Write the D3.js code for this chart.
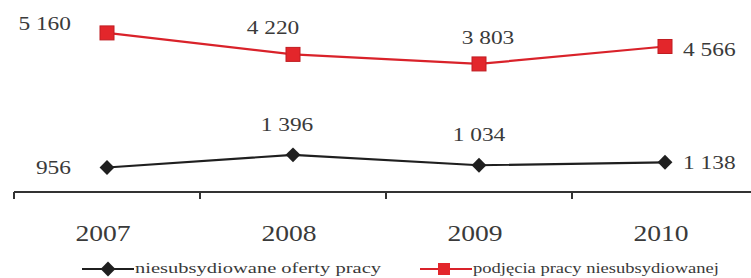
<!DOCTYPE html>
<html>
<head>
<meta charset="utf-8">
<script src="https://cdn.jsdelivr.net/npm/d3@7"></script>
<style>
  body { margin: 0; background: #fff; }
  svg { display: block; }
</style>
</head>
<body>
<div id="chart"></div>
<script>
// chart data
var years = ["2007", "2008", "2009", "2010"];
var offers = [956, 1396, 1034, 1138];          // niesubsydiowane oferty pracy
var placements = [5160, 4220, 3803, 4566];    // podjęcia pracy niesubsydiowanej
var seriesNames = ["niesubsydiowane oferty pracy", "podjęcia pracy niesubsydiowanej"];

var width = 751, height = 278;
var axisY = 192;
var textColor = "#3a3a3a";
var serif = "'Liberation Serif', 'Times New Roman', serif";

var svg = d3.select("#chart").append("svg")
    .attr("width", width)
    .attr("height", height);

// band scale so ticks fall between years, points sit in the middle
var x = d3.scaleBand()
    .domain(years)
    .range([14, 758]);
var cx = d => x(d) + x.bandwidth() / 2;

// the original axis is broken, each series gets its own band
var yTop = d3.scaleLinear().domain([3800, 5200]).range([64, 32]);
var yBottom = d3.scaleLinear().domain([800, 1600]).range([172, 149]);

var fmt = v => d3.format(",")(v).replace(",", " ");

// helper for the wide-looking serif text
function label(g, px, py, txt, size, anchor, sx) {
    g.append("g")
        .attr("transform", "translate(" + px + "," + py + ") scale(" + sx + ",1)")
        .append("text")
        .attr("text-anchor", anchor)
        .attr("dominant-baseline", "central")
        .attr("font-family", serif)
        .attr("font-size", size + "px")
        .attr("fill", textColor)
        .text(txt);
}

// axis line and ticks
svg.append("line")
    .attr("x1", x.range()[0]).attr("x2", width)
    .attr("y1", axisY).attr("y2", axisY)
    .attr("stroke", "#333").attr("stroke-width", 2);

svg.selectAll(".tick")
    .data(years)
    .enter().append("line")
    .attr("x1", d => x(d)).attr("x2", d => x(d))
    .attr("y1", axisY).attr("y2", axisY + 7)
    .attr("stroke", "#333").attr("stroke-width", 2);

years.forEach(d => label(svg, cx(d) - 4, 233, d, 23, "middle", 1.2));

var series = [
    { name: seriesNames[1], values: placements, y: yTop, color: "#d9222a", marker: "square", nudge: [0, -20, 9, 0], above: 26 },
    { name: seriesNames[0], values: offers, y: yBottom, color: "#1f1f1f", marker: "diamond", nudge: [0, -6, 0, 0], above: 30 }
];

function drawMarker(g, m, px, py, color) {
    if (m === "square") {
        g.append("rect")
            .attr("x", px - 7).attr("y", py - 7)
            .attr("width", 14).attr("height", 14)
            .attr("fill", "#e3262b").attr("stroke", "#c01d22").attr("stroke-width", 1);
    } else {
        g.append("path")
            .attr("d", d3.symbol().type(d3.symbolSquare).size(110)())
            .attr("transform", "translate(" + px + "," + py + ") rotate(45)")
            .attr("fill", color);
    }
}

series.forEach(s => {
    var line = d3.line()
        .x((v, i) => cx(years[i]))
        .y(v => s.y(v));

    svg.append("path")
        .datum(s.values)
        .attr("d", line)
        .attr("fill", "none")
        .attr("stroke", s.color)
        .attr("stroke-width", 2.2);

    s.values.forEach((v, i) => {
        var px = cx(years[i]), py = s.y(v);
        drawMarker(svg, s.marker, px, py, s.color);

        if (i === 0) {
            label(svg, px - 36, py - (s.marker === "square" ? 9 : 0), fmt(v), 18, "end", 1.3);
        } else if (i === s.values.length - 1) {
            label(svg, px + 18, py + (s.marker === "square" ? 3 : 1), fmt(v), 18, "start", 1.3);
        } else {
            label(svg, px + s.nudge[i], py - s.above, fmt(v), 18, "middle", 1.3);
        }
    });
});

// legend
var legendY = 269;
var legendItems = [
    { name: seriesNames[0], color: "#1f1f1f", marker: "diamond", x0: 82 },
    { name: seriesNames[1], color: "#d9222a", marker: "square", x0: 420 }
];
legendItems.forEach(l => {
    svg.append("line")
        .attr("x1", l.x0).attr("x2", l.x0 + 52)
        .attr("y1", legendY).attr("y2", legendY)
        .attr("stroke", l.color).attr("stroke-width", 2);
    if (l.marker === "square") {
        svg.append("rect")
            .attr("x", l.x0 + 18).attr("y", legendY - 6)
            .attr("width", 12).attr("height", 12)
            .attr("fill", "#e3262b");
    } else {
        drawMarker(svg, "diamond", l.x0 + 26, legendY, l.color);
    }
    // both legend labels span the same width in the original
    svg.append("text")
        .attr("x", l.x0 + 53)
        .attr("y", legendY + 4)
        .attr("font-family", serif)
        .attr("font-size", "15px")
        .attr("fill", textColor)
        .attr("textLength", 246)
        .attr("lengthAdjust", "spacingAndGlyphs")
        .text(l.name);
});
</script>
</body>
</html>
